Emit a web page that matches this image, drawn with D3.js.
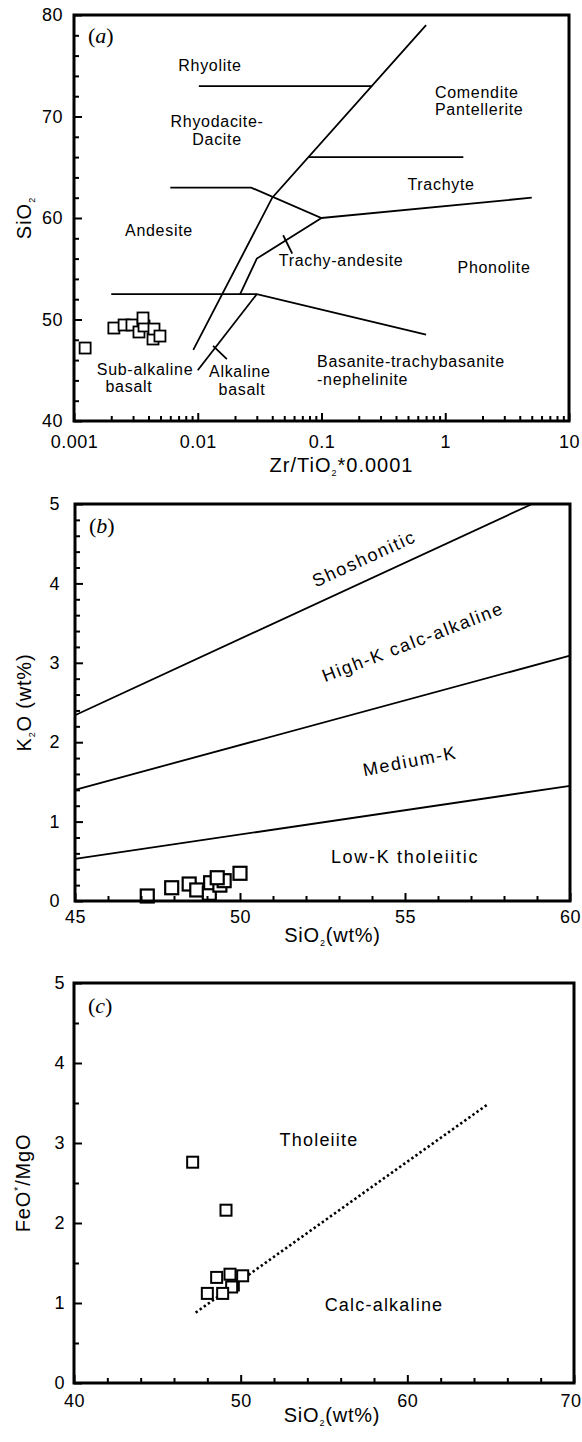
<!DOCTYPE html>
<html>
<head>
<meta charset="utf-8">
<title>Geochemical classification diagrams</title>
<script src="https://cdn.jsdelivr.net/npm/d3@7"></script>
<style>
  html, body { margin: 0; padding: 0; background: #fff; }
  svg { display: block; }
  text { font-family: "Liberation Sans", Arial, sans-serif; fill: #000; }
</style>
</head>
<body>
<svg id="chart" width="582" height="1442"></svg>
<script>
// ---------- (a) Zr/TiO2*0.0001 vs SiO2 ----------
const zrTiO2 = [0.00123, 0.0021, 0.00254, 0.00294, 0.00335, 0.00368, 0.00361, 0.00435, 0.00443, 0.00495];
const sio2A  = [47.19, 49.16, 49.46, 49.46, 48.77, 49.36, 50.15, 48.08, 49.06, 48.37];
const aXTicks = [0.001, 0.01, 0.1, 1, 10];
const aXTickLabels = ["0.001", "0.01", "0.1", "1", "10"];
const aYTicks = [40, 50, 60, 70, 80];
const aFieldLines = [
  [[0.0102, 73], [0.255, 73]],
  [[0.0092, 47], [0.04, 62], [0.7, 79]],
  [[0.078, 66], [1.4, 66]],
  [[0.006, 63], [0.027, 63], [0.1, 60], [5, 62]],
  [[0.1, 60], [0.03, 56], [0.022, 52.5]],
  [[0.002, 52.5], [0.03, 52.5], [0.7, 48.5]],
  [[0.01, 45], [0.03, 52.5]],
  [[0.049, 58.3], [0.058, 56.5]],
  [[0.0133, 47.4], [0.0172, 46.1]]
];
const aFieldLabels = [
  {t: "Rhyolite", x: 0.01256, y: 74.48, a: "middle"},
  {t: "Rhyodacite-", x: 0.01433, y: 68.97, a: "middle"},
  {t: "Dacite", x: 0.01433, y: 67.19, a: "middle"},
  {t: "Comendite", x: 0.826, y: 71.82, a: "start"},
  {t: "Pantellerite", x: 0.826, y: 70.15, a: "start"},
  {t: "Trachyte", x: 0.925, y: 62.76, a: "middle"},
  {t: "Andesite", x: 0.00486, y: 58.23, a: "middle"},
  {t: "Trachy-andesite", x: 0.144, y: 55.27, a: "middle"},
  {t: "Phonolite", x: 2.48, y: 54.58, a: "middle"},
  {t: "Sub-alkaline", x: 0.00375, y: 44.53, a: "middle"},
  {t: "basalt", x: 0.00278, y: 42.86, a: "middle"},
  {t: "Alkaline", x: 0.0219, y: 44.33, a: "middle"},
  {t: "basalt", x: 0.0228, y: 42.56, a: "middle"},
  {t: "Basanite-trachybasanite", x: 0.092, y: 45.32, a: "start"},
  {t: "-nephelinite", x: 0.092, y: 43.55, a: "start"}
];

// ---------- (b) SiO2 vs K2O ----------
const sio2B = [47.19, 47.93, 48.46, 48.69, 49.07, 49.11, 49.39, 49.52, 49.31, 50.0];
const k2o   = [0.063, 0.167, 0.214, 0.139, 0.097, 0.23, 0.20, 0.256, 0.293, 0.349];
const bXTicks = [45, 50, 55, 60];
const bYTicks = [0, 1, 2, 3, 4, 5];
const bSeriesLines = [
  [[45, 2.34], [58.85, 5.0]],
  [[45, 1.40], [60, 3.09]],
  [[45, 0.53], [60, 1.45]]
];
const bSeriesLabels = [
  {t: "Shoshonitic", x: 53.76, y: 4.31, r: -24.5},
  {t: "High-K calc-alkaline", x: 55.24, y: 3.26, r: -21},
  {t: "Medium-K", x: 55.15, y: 1.76, r: -11},
  {t: "Low-K  tholeiitic", x: 55.0, y: 0.554, r: 0}
];

// ---------- (c) SiO2 vs FeO*/MgO ----------
const sio2C = [47.12, 49.12, 49.56, 49.46, 48.0, 48.92, 48.56, 49.36, 50.12];
const feoMgo = [2.76, 2.16, 1.225, 1.20, 1.12, 1.12, 1.32, 1.36, 1.34];
const cXTicks = [40, 50, 60, 70];
const cYTicks = [0, 1, 2, 3, 4, 5];
const cDivide = [[47.3, 0.88], [64.8, 3.48]];
const cSeriesLabels = [
  {t: "Tholeiite", x: 54.7, y: 3.04},
  {t: "Calc-alkaline", x: 58.6, y: 0.975}
];

const svg = d3.select("#chart");

function styleAxis(sel, fontSize, spacing) {
  sel.select(".domain").remove();
  sel.selectAll(".tick line").attr("stroke", "#000").attr("stroke-width", 2);
  sel.selectAll(".tick text")
    .attr("fill", "#000")
    .attr("font-family", "'Liberation Sans', Arial, sans-serif")
    .attr("font-size", fontSize)
    .attr("letter-spacing", spacing);
}

function drawAxes(g, x, y, o) {
  const h = o.h;
  g.append("g").attr("transform", `translate(0,${h})`)
    .call(d3.axisBottom(x).tickValues(o.xMinor).tickSize(-5).tickFormat(""))
    .call(s => styleAxis(s, 18, 0));
  const xa = g.append("g").attr("transform", `translate(0,${h})`)
    .call(d3.axisBottom(x).tickValues(o.xMajor).tickSize(-8).tickPadding(o.xPad).tickFormat(o.xFmt))
    .call(s => styleAxis(s, 18, 0.5));
  g.append("g")
    .call(d3.axisLeft(y).tickValues(o.yMinor).tickSize(-5).tickFormat(""))
    .call(s => styleAxis(s, 18, 0));
  g.append("g")
    .call(d3.axisLeft(y).tickValues(o.yMajor).tickSize(-8).tickPadding(o.yPad).tickFormat(d3.format("d")))
    .call(s => styleAxis(s, 18, 0.5));
  return xa;
}

function panelTag(g, letter, ty) {
  const t = g.append("text").attr("x", 14).attr("y", ty)
    .style("font-family", "'Liberation Serif', 'Times New Roman', serif")
    .attr("font-size", 22);
  t.append("tspan").text("(");
  t.append("tspan").attr("font-style", "italic").text(letter);
  t.append("tspan").text(")");
}

function frame(g, w, h) {
  g.append("rect").attr("width", w).attr("height", h)
    .attr("fill", "none").attr("stroke", "#000").attr("stroke-width", 3);
}

function squares(g, x, y, xs, ys, size, sw) {
  g.append("g").selectAll("rect").data(d3.zip(xs, ys)).join("rect")
    .attr("x", d => x(d[0]) - size / 2)
    .attr("y", d => y(d[1]) - size / 2)
    .attr("width", size).attr("height", size)
    .attr("fill", "#fff").attr("stroke", "#000").attr("stroke-width", sw);
}

// ================= Panel (a) =================
{
  const L = 74, T = 15, W = 495, H = 406;
  const g = svg.append("g").attr("transform", `translate(${L},${T})`);
  const x = d3.scaleLog().domain([0.001, 10]).range([0, W]);
  const y = d3.scaleLinear().domain([40, 80]).range([H, 0]);

  const minor = [];
  [0.001, 0.01, 0.1, 1].forEach(dec => { for (let k = 2; k <= 9; k++) minor.push(dec * k); });
  const yMinor = d3.range(42, 80, 2).filter(v => v % 10 !== 0);

  const line = d3.line().x(d => x(d[0])).y(d => y(d[1]));
  g.append("g").selectAll("path").data(aFieldLines).join("path")
    .attr("d", line).attr("fill", "none").attr("stroke", "#000").attr("stroke-width", 1.8);

  g.append("g").selectAll("text").data(aFieldLabels).join("text")
    .attr("x", d => x(d.x)).attr("y", d => y(d.y))
    .attr("text-anchor", d => d.a)
    .attr("font-size", 16).attr("letter-spacing", 0.7)
    .text(d => d.t);

  squares(g, x, y, zrTiO2, sio2A, 11, 1.8);

  drawAxes(g, x, y, {
    h: H, xMajor: aXTicks, xMinor: minor, yMajor: aYTicks, yMinor: yMinor,
    xFmt: (d, i) => aXTickLabels[i], xPad: 14, yPad: 11
  });
  frame(g, W, H);
  panelTag(g, "a", 28);

  const xt = g.append("text").attr("x", W / 2 + 20).attr("y", H + 51)
    .attr("text-anchor", "middle").attr("font-size", 20).attr("letter-spacing", 1);
  xt.append("tspan").text("Zr/TiO");
  xt.append("tspan").attr("font-size", 9).attr("dy", 4).text("2");
  xt.append("tspan").attr("dy", -4).text("*0.0001");

  const yt = g.append("text").attr("transform", `translate(${-43},${H / 2}) rotate(-90)`)
    .attr("text-anchor", "middle").attr("font-size", 20).attr("letter-spacing", 1);
  yt.append("tspan").text("SiO");
  yt.append("tspan").attr("font-size", 9).attr("dy", 4).text("2");
}

// ================= Panel (b) =================
{
  const L = 75, T = 504, W = 495, H = 397;
  const g = svg.append("g").attr("transform", `translate(${L},${T})`);
  const x = d3.scaleLinear().domain([45, 60]).range([0, W]);
  const y = d3.scaleLinear().domain([0, 5]).range([H, 0]);

  const xMinor = d3.range(46, 60, 1).filter(v => v % 5 !== 0);
  const yMinor = d3.range(0.2, 5, 0.2).filter(v => Math.abs(v - Math.round(v)) > 1e-6);

  const line = d3.line().x(d => x(d[0])).y(d => y(d[1]));
  g.append("g").selectAll("path").data(bSeriesLines).join("path")
    .attr("d", line).attr("fill", "none").attr("stroke", "#000").attr("stroke-width", 1.8);

  g.append("g").selectAll("text").data(bSeriesLabels).join("text")
    .attr("transform", d => `translate(${x(d.x)},${y(d.y)}) rotate(${d.r})`)
    .attr("text-anchor", "middle").attr("dominant-baseline", "central")
    .attr("font-size", 18).attr("letter-spacing", 1.7)
    .text(d => d.t);

  squares(g, x, y, sio2B, k2o, 13, 2.2);

  drawAxes(g, x, y, {
    h: H, xMajor: bXTicks, xMinor: xMinor, yMajor: bYTicks, yMinor: yMinor,
    xFmt: d3.format("d"), xPad: 9, yPad: 15
  });
  frame(g, W, H);
  panelTag(g, "b", 29);

  const xt = g.append("text").attr("x", W / 2 + 10).attr("y", H + 41)
    .attr("text-anchor", "middle").attr("font-size", 20).attr("letter-spacing", 0.8);
  xt.append("tspan").text("SiO");
  xt.append("tspan").attr("font-size", 9).attr("dy", 4).text("2");
  xt.append("tspan").attr("dy", -4).text("(wt%)");

  const yt = g.append("text").attr("transform", `translate(${-44},${H / 2}) rotate(-90)`)
    .attr("text-anchor", "middle").attr("font-size", 20).attr("letter-spacing", 0.8);
  yt.append("tspan").text("K");
  yt.append("tspan").attr("font-size", 9).attr("dy", 4).text("2");
  yt.append("tspan").attr("dy", -4).text("O (wt%)");
}

// ================= Panel (c) =================
{
  const L = 74, T = 983, W = 500, H = 400;
  const g = svg.append("g").attr("transform", `translate(${L},${T})`);
  const x = d3.scaleLinear().domain([40, 70]).range([0, W]);
  const y = d3.scaleLinear().domain([0, 5]).range([H, 0]);

  const xMinor = d3.range(42, 70, 2).filter(v => v % 10 !== 0);
  const yMinor = d3.range(0.5, 5, 1);

  g.append("path").datum(cDivide)
    .attr("d", d3.line().x(d => x(d[0])).y(d => y(d[1])))
    .attr("fill", "none").attr("stroke", "#000").attr("stroke-width", 2.6)
    .attr("stroke-dasharray", "2.4 2.6");

  g.append("g").selectAll("text").data(cSeriesLabels).join("text")
    .attr("x", d => x(d.x)).attr("y", d => y(d.y))
    .attr("text-anchor", "middle").attr("dominant-baseline", "central")
    .attr("font-size", 18).attr("letter-spacing", 1.2)
    .text(d => d.t);

  squares(g, x, y, sio2C, feoMgo, 11, 2);

  const xa = drawAxes(g, x, y, {
    h: H, xMajor: cXTicks, xMinor: xMinor, yMajor: cYTicks, yMinor: yMinor,
    xFmt: d3.format("d"), xPad: 11, yPad: 9
  });
  // keep the last tick label inside the page edge
  xa.selectAll(".tick text").filter(d => d === 70)
    .attr("text-anchor", "end").attr("x", 7);

  frame(g, W, H);
  panelTag(g, "c", 30);

  const xt = g.append("text").attr("x", W / 2 + 8).attr("y", H + 39)
    .attr("text-anchor", "middle").attr("font-size", 20).attr("letter-spacing", 0.8);
  xt.append("tspan").text("SiO");
  xt.append("tspan").attr("font-size", 9).attr("dy", 4).text("2");
  xt.append("tspan").attr("dy", -4).text("(wt%)");

  const yt = g.append("text").attr("transform", `translate(${-44},${H / 2}) rotate(-90)`)
    .attr("text-anchor", "middle").attr("font-size", 20).attr("letter-spacing", 0.8);
  yt.append("tspan").text("FeO");
  yt.append("tspan").attr("font-size", 11).attr("dy", -8).text("*");
  yt.append("tspan").attr("dy", 8).text("/MgO");
}
</script>
</body>
</html>
